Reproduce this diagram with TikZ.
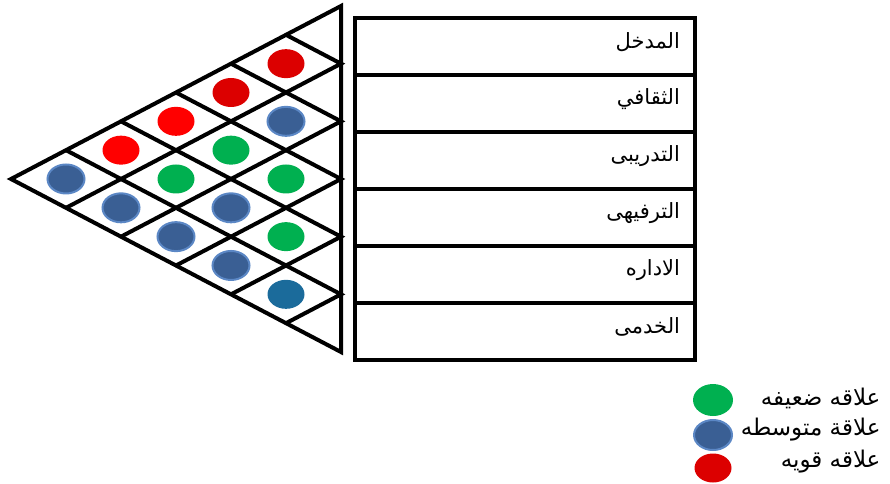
\documentclass[tikz,border=0pt]{standalone}
\usepackage{fontspec}
\newfontfamily\arabicfont[Script=Arabic]{DejaVu Sans}
\TeXXeTstate=1
\usetikzlibrary{calc,shapes.geometric}
\definecolor{weakc}{HTML}{00B050}
\definecolor{medc}{HTML}{3A5F94}
\definecolor{medb}{HTML}{5B87C5}
\definecolor{medt}{HTML}{1B6B9B}
\definecolor{strongc}{HTML}{FF0000}
\definecolor{strongd}{HTML}{DC0000}
\tikzset{
  grid/.style={line width=4pt},
  rowbox/.style={draw, line width=3.5pt, minimum width=340pt, minimum height=57pt,
    anchor=north west, inner sep=0pt},
  rowtext/.style={anchor=east, font=\arabicfont\fontsize{21}{24}\selectfont},
  dot/.style={ellipse, minimum width=37pt, minimum height=29pt, inner sep=0pt},
  weak/.style={dot, fill=weakc},
  medium/.style={dot, fill=medc, draw=medb, line width=2pt},
  mediumt/.style={dot, fill=medt},
  strong/.style={dot, fill=strongc},
  strongdk/.style={dot, fill=strongd},
  legtext/.style={anchor=east, font=\arabicfont\fontsize{23}{26}\selectfont}
}
\begin{document}
\begin{tikzpicture}[x=1pt,y=-1pt]
\useasboundingbox (0,0) rectangle (890,483);
\coordinate (A) at (11,179);
\coordinate (T) at (341,6);
\coordinate (B) at (341,352);
\foreach \k in {0,...,6}
  \coordinate (r\k) at ($(T)!\k/6!(B)$);
\draw[grid] (A) -- (T) -- (B) -- cycle;
\foreach \k in {1,...,5}
  \draw[grid] ($(T)!\k/6!(A)$) -- (r\k) -- ($(B)!{(6-\k)/6}!(A)$);
\foreach \a/\b/\s in {1/2/strongdk,2/3/medium,3/4/weak,4/5/weak,5/6/mediumt,
    1/3/strongdk,2/4/weak,3/5/medium,4/6/medium,
    1/4/strong,2/5/weak,3/6/medium,
    1/5/strong,2/6/medium,
    1/6/medium}
  \node[\s] (c\a\b) at ({341-(\b-\a)*55},{6+(\a+\b-1)*28.83}) {};
\foreach \i/\txt in {1/المدخل,2/الثقافي,3/التدريبى,4/الترفيهى,5/الاداره,6/الخدمى}{
  \node[rowbox] (row\i) at (353,{16+(\i-1)*57}) {};
  \node[rowtext] (lab\i) at ([xshift=-13pt,yshift=4pt]row\i.east) {\beginR\txt\endR};
}
\node[weak, minimum width=40pt, minimum height=32pt] (kweak) at (713,400) {};
\node[medium, minimum width=38pt, minimum height=30pt] (kmed) at (713,435) {};
\node[strongdk] (kstrong) at (713,468) {};
\node[legtext] (tweak) at (884,398) {\beginR علاقه ضعيفه\endR};
\node[legtext] (tmed) at (884,430) {\beginR علاقة متوسطه\endR};
\node[legtext] (tstrong) at (884,462) {\beginR علاقه قويه\endR};
\end{tikzpicture}
\end{document}
